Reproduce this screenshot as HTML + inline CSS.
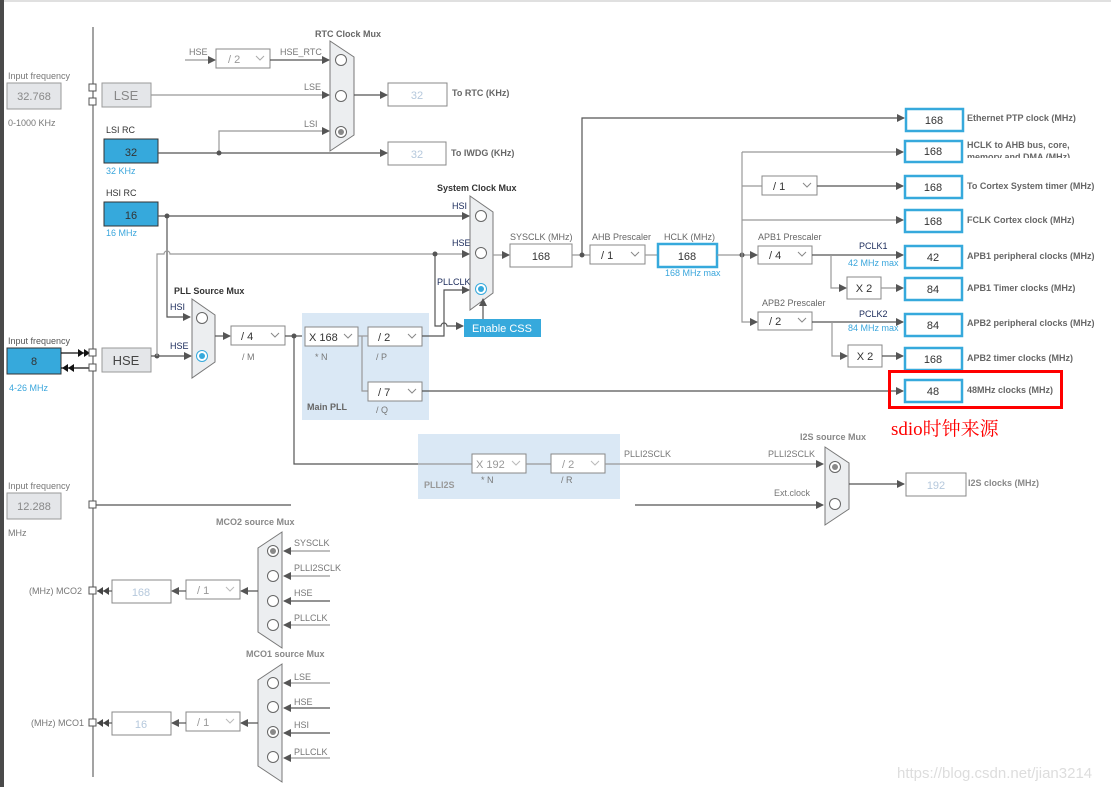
<!DOCTYPE html>
<html><head><meta charset="utf-8"><style>
html,body{margin:0;padding:0;background:#fff;}
svg{display:block;font-family:"Liberation Sans",Arial,sans-serif;}
.l{font-size:9px;fill:#777;}
.lb{font-size:9px;fill:#666;font-weight:bold;}
.dk{font-size:9px;fill:#1a2a5a;}
.bl{font-size:9px;fill:#3aa6dc;}
.v{font-size:11px;fill:#333;text-anchor:middle;}
.vg{font-size:11px;fill:#b5c8dc;text-anchor:middle;}
.w{stroke:#555;stroke-width:1.2;fill:none;}
.g{stroke:#999;stroke-width:1.2;fill:none;}
.bx{fill:#fff;stroke:#888;stroke-width:1;}
.bb{fill:#fff;stroke:#36a9dc;stroke-width:2.5;}
.gb{fill:#e4e6e9;stroke:#999;stroke-width:1;}
.blu{fill:#36a9dc;stroke:#333;stroke-width:1;}
.mx{fill:#eceef0;stroke:#777;stroke-width:1;}
.c{fill:#fff;stroke:#666;stroke-width:1;}
</style></head><body>
<svg width="1111" height="789" viewBox="0 0 1111 789" xmlns="http://www.w3.org/2000/svg">
<defs>
<marker id="a" markerWidth="8" markerHeight="8" refX="7" refY="4" orient="auto" markerUnits="userSpaceOnUse"><path d="M0,0 L8,4 L0,8 z" fill="#555"/></marker>
</defs>
<rect x="0" y="0" width="1111" height="789" fill="#fff"/>
<rect x="0" y="0" width="1111" height="2" fill="#e0e0e0"/>
<rect x="0" y="0" width="4" height="787" fill="#4a4a4a"/>
<line x1="93" y1="27" x2="93" y2="777" stroke="#666" stroke-width="1.2"/>

<!-- left inputs -->
<text x="8" y="79" class="l">Input frequency</text>
<rect x="7" y="83" width="54" height="26" class="gb"/><text x="34" y="100" class="v" fill="#888" style="fill:#888">32.768</text>
<text x="8" y="126" class="l">0-1000 KHz</text>
<rect x="102" y="83" width="49" height="24" class="gb"/><text x="126" y="100" style="font-size:13px;fill:#888;text-anchor:middle">LSE</text>
<rect x="89" y="84" width="7" height="7" fill="#fff" stroke="#555"/><rect x="89" y="98" width="7" height="7" fill="#fff" stroke="#555"/>

<text x="106" y="133" class="dk" style="fill:#333">LSI RC</text>
<rect x="104" y="139" width="54" height="24" class="blu"/><text x="131" y="156" class="v">32</text>
<text x="106" y="174" class="bl">32 KHz</text>
<text x="106" y="196" class="dk" style="fill:#333">HSI RC</text>
<rect x="104" y="202" width="54" height="24" class="blu"/><text x="131" y="219" class="v">16</text>
<text x="106" y="236" class="bl">16 MHz</text>

<text x="8" y="344" class="dk" style="fill:#555">Input frequency</text>
<rect x="7" y="348" width="54" height="26" class="blu"/><text x="34" y="365" class="v">8</text>
<text x="9" y="391" class="bl">4-26 MHz</text>
<line x1="61" y1="353" x2="90" y2="353" stroke="#111" stroke-width="1.2"/>
<path d="M78,349 L84,353 L78,357z M84,349 L90,353 L84,357z" fill="#111"/>
<line x1="61" y1="368" x2="90" y2="368" stroke="#111" stroke-width="1.2"/>
<path d="M62,368 L68,364 L68,372z M68,368 L74,364 L74,372z" fill="#111"/>
<rect x="89" y="349" width="7" height="7" fill="#fff" stroke="#555"/><rect x="89" y="364" width="7" height="7" fill="#fff" stroke="#555"/>
<rect x="102" y="348" width="49" height="24" class="gb"/><text x="126" y="365" style="font-size:13px;fill:#444;text-anchor:middle">HSE</text>

<!-- RTC mux -->
<text x="315" y="37" class="lb">RTC Clock Mux</text>
<line x1="185" y1="60" x2="215" y2="60" class="g" marker-end="url(#a)"/>
<text x="189" y="55" class="l">HSE</text>
<rect x="216" y="49" width="54" height="19" class="bx"/><text x="228" y="63" class="vg" style="fill:#999;text-anchor:start">/ 2</text>
<path d="M256,56 l4,4 l4,-4" stroke="#aaa" fill="none"/>
<line x1="270" y1="60" x2="329" y2="60" class="w" marker-end="url(#a)"/>
<text x="280" y="55" class="l">HSE_RTC</text>
<line x1="151" y1="95" x2="329" y2="95" class="g" marker-end="url(#a)"/>
<text x="304" y="90" class="l">LSE</text>
<path d="M219,153 V131 H329" class="g" marker-end="url(#a)"/>
<text x="304" y="127" class="l">LSI</text>
<path d="M330,41 L354,57 L354,135 L330,151 Z" class="mx"/>
<circle cx="341" cy="60" r="5.5" class="c"/><circle cx="341" cy="96" r="5.5" class="c"/>
<circle cx="341" cy="132" r="5.5" class="c"/><circle cx="341" cy="132" r="3" fill="#888"/>
<line x1="354" y1="95" x2="387" y2="95" class="w" marker-end="url(#a)"/>
<rect x="388" y="83" width="59" height="23" class="bx"/><text x="417" y="99" class="vg">32</text>
<text x="452" y="96" class="lb">To RTC (KHz)</text>
<line x1="158" y1="153" x2="387" y2="153" class="w" marker-end="url(#a)"/>
<circle cx="219" cy="153" r="2.5" fill="#555"/>
<rect x="388" y="142" width="58" height="23" class="bx"/><text x="417" y="158" class="vg">32</text>
<text x="451" y="156" class="lb">To IWDG (KHz)</text>

<!-- HSI / HSE lines -->
<line x1="158" y1="216" x2="469" y2="216" class="w" marker-end="url(#a)"/>
<circle cx="167" cy="216" r="2.5" fill="#555"/>
<path d="M167,216 V317 H190" class="w" marker-end="url(#a)"/>
<path d="M151,356 H191" class="w" marker-end="url(#a)"/>
<circle cx="157" cy="356" r="2.5" fill="#555"/>
<path d="M157,356 V254 H164 a3,3 0 0 1 6,0 H469" class="g" marker-end="url(#a)"/>
<circle cx="435" cy="254" r="2.5" fill="#555"/>
<path d="M435,254 V326 H441 a3,3 0 0 1 6,0 H463" class="w" marker-end="url(#a)"/>

<!-- PLL source mux -->
<text x="174" y="294" class="lb" style="fill:#333">PLL Source Mux</text>
<text x="170" y="310" class="dk">HSI</text><text x="170" y="349" class="dk">HSE</text>
<path d="M192,299 L215,315 L215,362 L192,378 Z" class="mx"/>
<circle cx="202" cy="318" r="5.5" class="c"/>
<circle cx="202" cy="356" r="5.5" fill="#fff" stroke="#36a9dc"/><circle cx="202" cy="356" r="3" fill="#36a9dc"/>
<line x1="215" y1="336" x2="230" y2="336" class="w" marker-end="url(#a)"/>
<rect x="231" y="326" width="54" height="19" class="bx"/><text x="241" y="340" style="font-size:11px;fill:#333">/ 4</text>
<path d="M271,333 l4,4 l4,-4" stroke="#888" fill="none"/>
<text x="242" y="360" class="l">/ M</text>
<line x1="285" y1="336" x2="305" y2="336" class="w"/>
<circle cx="294" cy="336" r="2.5" fill="#555"/>

<!-- Main PLL -->
<rect x="302" y="313" width="127" height="107" fill="#dae8f5"/>
<rect x="305" y="327" width="53" height="19" class="bx"/><text x="309" y="341" style="font-size:11px;fill:#333">X 168</text>
<path d="M344,334 l4,4 l4,-4" stroke="#888" fill="none"/>
<text x="315" y="360" class="l">* N</text>
<rect x="368" y="327" width="54" height="19" class="bx"/><text x="378" y="341" style="font-size:11px;fill:#333">/ 2</text>
<path d="M408,334 l4,4 l4,-4" stroke="#888" fill="none"/>
<text x="376" y="360" class="l">/ P</text>
<line x1="358" y1="336" x2="368" y2="336" class="g"/>
<path d="M362,336 V391 H368" class="g"/>
<rect x="368" y="382" width="54" height="19" class="bx"/><text x="378" y="396" style="font-size:11px;fill:#333">/ 7</text>
<path d="M408,389 l4,4 l4,-4" stroke="#888" fill="none"/>
<text x="376" y="413" class="l">/ Q</text>
<text x="307" y="410" class="lb">Main PLL</text>
<path d="M422,336 H444 V290 H469" class="w" marker-end="url(#a)"/>
<line x1="422" y1="391" x2="903" y2="391" class="w" marker-end="url(#a)"/>

<!-- System mux -->
<text x="437" y="191" class="lb" style="fill:#333">System Clock Mux</text>
<text x="452" y="209" class="dk">HSI</text><text x="452" y="246" class="dk">HSE</text><text x="437" y="285" class="dk">PLLCLK</text>
<path d="M470,196 L493,212 L493,293 L470,310 Z" class="mx"/>
<circle cx="481" cy="216" r="5.5" class="c"/><circle cx="481" cy="253" r="5.5" class="c"/>
<circle cx="481" cy="289" r="5.5" fill="#fff" stroke="#36a9dc"/><circle cx="481" cy="289" r="3" fill="#36a9dc"/>
<rect x="464" y="319" width="77" height="18" fill="#36a9dc"/><text x="502" y="332" style="font-size:11px;fill:#fff;text-anchor:middle">Enable CSS</text>
<line x1="483" y1="319" x2="483" y2="299" class="w" marker-end="url(#a)"/>
<line x1="493" y1="255" x2="509" y2="255" class="g" marker-end="url(#a)"/>
<text x="510" y="240" class="l" style="fill:#666">SYSCLK (MHz)</text>
<rect x="510" y="244" width="62" height="23" class="bx"/><text x="541" y="260" class="v">168</text>
<line x1="572" y1="255" x2="590" y2="255" class="g"/>
<circle cx="582" cy="255" r="2.5" fill="#555"/>
<path d="M582,255 V118 H904" class="w" marker-end="url(#a)"/>

<text x="592" y="240" class="l" style="fill:#666">AHB Prescaler</text>
<rect x="590" y="245" width="55" height="19" class="bx"/><text x="601" y="259" style="font-size:11px;fill:#333">/ 1</text>
<path d="M631,252 l4,4 l4,-4" stroke="#888" fill="none"/>
<line x1="645" y1="255" x2="658" y2="255" class="g"/>
<text x="664" y="240" class="l" style="fill:#666">HCLK (MHz)</text>
<rect x="658" y="244" width="59" height="23" class="bb"/><text x="687" y="260" class="v">168</text>
<text x="665" y="276" class="bl">168 MHz max</text>
<line x1="717" y1="255" x2="757" y2="255" class="g" marker-end="url(#a)"/>
<circle cx="742" cy="255" r="2.5" fill="#555"/>
<path d="M742,152 V322 H757" class="g" marker-end="url(#a)"/>
<line x1="742" y1="152" x2="903" y2="152" class="g" marker-end="url(#a)"/>
<line x1="742" y1="186" x2="762" y2="186" class="g"/>
<rect x="762" y="176" width="55" height="19" class="bx"/><text x="773" y="190" style="font-size:11px;fill:#333">/ 1</text>
<path d="M803,183 l4,4 l4,-4" stroke="#888" fill="none"/>
<line x1="817" y1="186" x2="903" y2="186" class="w" marker-end="url(#a)"/>
<line x1="742" y1="220" x2="903" y2="220" class="g" marker-end="url(#a)"/>

<text x="758" y="240" class="l" style="fill:#666">APB1 Prescaler</text>
<rect x="758" y="246" width="54" height="18" class="bx"/><text x="769" y="259" style="font-size:11px;fill:#333">/ 4</text>
<path d="M798,252 l4,4 l4,-4" stroke="#888" fill="none"/>
<line x1="812" y1="255" x2="903" y2="255" class="w" marker-end="url(#a)"/>
<text x="859" y="249" class="dk">PCLK1</text><text x="848" y="266" class="bl">42 MHz max</text>
<path d="M831,255 V288 H846" class="g" marker-end="url(#a)"/>
<rect x="847" y="277" width="34" height="22" class="bx"/><text x="864" y="292" class="v">X 2</text>
<line x1="881" y1="288" x2="903" y2="288" class="g" marker-end="url(#a)"/>

<text x="762" y="306" class="l" style="fill:#666">APB2 Prescaler</text>
<rect x="758" y="312" width="54" height="18" class="bx"/><text x="769" y="325" style="font-size:11px;fill:#333">/ 2</text>
<path d="M798,318 l4,4 l4,-4" stroke="#888" fill="none"/>
<line x1="812" y1="322" x2="903" y2="322" class="w" marker-end="url(#a)"/>
<text x="859" y="317" class="dk">PCLK2</text><text x="848" y="331" class="bl">84 MHz max</text>
<path d="M832,322 V356 H847" class="g" marker-end="url(#a)"/>
<rect x="848" y="345" width="34" height="22" class="bx"/><text x="865" y="360" class="v">X 2</text>
<line x1="882" y1="356" x2="903" y2="356" class="w" marker-end="url(#a)"/>

<!-- right outputs -->
<g>
<rect x="906" y="109" width="57" height="22" class="bb"/><text x="934" y="124" class="v">168</text>
<text x="967" y="121" class="lb">Ethernet PTP clock (MHz)</text>
<rect x="905" y="141" width="57" height="21" class="bb"/><text x="933" y="155" class="v">168</text>
<text x="967" y="148" class="lb">HCLK to AHB bus, core,</text>
<svg x="967" y="150" width="120" height="8" overflow="hidden"><text x="0" y="10" class="lb">memory and DMA (MHz)</text></svg>
<rect x="905" y="176" width="57" height="22" class="bb"/><text x="933" y="191" class="v">168</text>
<text x="967" y="189" class="lb">To Cortex System timer (MHz)</text>
<rect x="905" y="210" width="57" height="22" class="bb"/><text x="933" y="225" class="v">168</text>
<text x="967" y="223" class="lb">FCLK Cortex clock (MHz)</text>
<rect x="905" y="246" width="57" height="22" class="bb"/><text x="933" y="261" class="v">42</text>
<text x="967" y="259" class="lb">APB1 peripheral clocks (MHz)</text>
<rect x="905" y="278" width="57" height="22" class="bb"/><text x="933" y="293" class="v">84</text>
<text x="967" y="291" class="lb">APB1 Timer clocks (MHz)</text>
<rect x="905" y="314" width="57" height="22" class="bb"/><text x="933" y="329" class="v">84</text>
<text x="967" y="326" class="lb">APB2 peripheral clocks (MHz)</text>
<rect x="905" y="348" width="57" height="22" class="bb"/><text x="933" y="363" class="v">168</text>
<text x="967" y="361" class="lb">APB2 timer clocks (MHz)</text>
<rect x="905" y="380" width="57" height="22" class="bb"/><text x="933" y="395" class="v">48</text>
<text x="967" y="393" class="lb">48MHz clocks (MHz)</text>
<rect x="889.5" y="371.5" width="172" height="36" fill="none" stroke="#f00" stroke-width="3"/>
<text x="891" y="435" style="font-family:'Liberation Serif','Noto Serif CJK SC',serif;font-size:19px;fill:#f00">sdio时钟来源</text>
</g>

<!-- PLLI2S -->
<path d="M294,336 V464 H471" class="w"/>
<rect x="418" y="434" width="202" height="65" fill="#dae8f5"/>
<line x1="418" y1="464" x2="472" y2="464" class="g"/>
<rect x="472" y="454" width="54" height="19" class="bx"/><text x="476" y="468" style="font-size:11px;fill:#999">X 192</text>
<path d="M512,461 l4,4 l4,-4" stroke="#bbb" fill="none"/>
<text x="481" y="483" class="l">* N</text>
<line x1="526" y1="464" x2="551" y2="464" class="g"/>
<rect x="551" y="454" width="54" height="19" class="bx"/><text x="562" y="468" style="font-size:11px;fill:#999">/ 2</text>
<path d="M591,461 l4,4 l4,-4" stroke="#bbb" fill="none"/>
<text x="561" y="483" class="l">/ R</text>
<text x="424" y="488" class="lb" style="fill:#999">PLLI2S</text>
<line x1="605" y1="464" x2="823" y2="464" class="g" marker-end="url(#a)"/>
<text x="624" y="457" class="l">PLLI2SCLK</text><text x="768" y="457" class="l">PLLI2SCLK</text>
<text x="774" y="496" class="l">Ext.clock</text>
<line x1="635" y1="505" x2="823" y2="505" class="w" marker-end="url(#a)"/>
<text x="800" y="440" class="lb" style="fill:#888">I2S source Mux</text>
<path d="M825,447 L849,463 L849,509 L825,525 Z" class="mx"/>
<circle cx="835" cy="467" r="5.5" class="c"/><circle cx="835" cy="467" r="3" fill="#888"/>
<circle cx="835" cy="504" r="5.5" class="c"/>
<line x1="849" y1="484" x2="904" y2="484" class="w" marker-end="url(#a)"/>
<rect x="906" y="473" width="60" height="23" class="bx"/><text x="936" y="489" class="vg">192</text>
<text x="968" y="486" class="lb" style="fill:#888">I2S clocks (MHz)</text>

<!-- 12.288 -->
<text x="8" y="489" class="l">Input frequency</text>
<rect x="7" y="493" width="54" height="26" class="gb"/><text x="34" y="510" style="font-size:11px;fill:#888;text-anchor:middle">12.288</text>
<text x="8" y="536" class="l">MHz</text>
<line x1="93" y1="505" x2="291" y2="505" class="w"/>
<rect x="89" y="501" width="7" height="7" fill="#fff" stroke="#555"/>

<!-- MCO2 -->
<text x="216" y="525" class="lb" style="fill:#888">MCO2 source Mux</text>
<path d="M282,532 L282,648 L258,632 L258,548 Z" class="mx"/>
<circle cx="273" cy="551" r="5.5" class="c"/><circle cx="273" cy="551" r="3" fill="#888"/>
<circle cx="273" cy="576" r="5.5" class="c"/><circle cx="273" cy="601" r="5.5" class="c"/><circle cx="273" cy="625" r="5.5" class="c"/>
<line x1="330" y1="551" x2="284" y2="551" class="g" marker-end="url(#a)"/>
<line x1="330" y1="576" x2="284" y2="576" class="g" marker-end="url(#a)"/>
<line x1="330" y1="601" x2="284" y2="601" class="w" marker-end="url(#a)"/>
<line x1="330" y1="625" x2="284" y2="625" class="g" marker-end="url(#a)"/>
<text x="294" y="546" class="l">SYSCLK</text><text x="294" y="571" class="l">PLLI2SCLK</text>
<text x="294" y="596" class="l">HSE</text><text x="294" y="621" class="l">PLLCLK</text>
<line x1="258" y1="591" x2="241" y2="591" class="w" marker-end="url(#a)"/>
<rect x="186" y="580" width="54" height="19" class="bx"/><text x="197" y="594" style="font-size:11px;fill:#999">/ 1</text>
<path d="M226,587 l4,4 l4,-4" stroke="#bbb" fill="none"/>
<line x1="186" y1="591" x2="172" y2="591" class="w" marker-end="url(#a)"/>
<rect x="112" y="580" width="59" height="23" class="bx"/><text x="141" y="596" class="vg">168</text>
<line x1="112" y1="591" x2="97" y2="591" class="w"/>
<path d="M97,591 l6,-4 v8z M103,591 l6,-4 v8z" fill="#444"/>
<rect x="89" y="587" width="7" height="7" fill="#fff" stroke="#555"/>
<text x="29" y="594" class="l">(MHz) MCO2</text>

<!-- MCO1 -->
<text x="246" y="657" class="lb" style="fill:#888">MCO1 source Mux</text>
<path d="M282,664 L282,782 L258,766 L258,680 Z" class="mx"/>
<circle cx="273" cy="683" r="5.5" class="c"/><circle cx="273" cy="707" r="5.5" class="c"/>
<circle cx="273" cy="732" r="5.5" class="c"/><circle cx="273" cy="732" r="3" fill="#888"/>
<circle cx="273" cy="757" r="5.5" class="c"/>
<line x1="330" y1="683" x2="284" y2="683" class="g" marker-end="url(#a)"/>
<line x1="330" y1="708" x2="284" y2="708" class="w" marker-end="url(#a)"/>
<line x1="330" y1="733" x2="284" y2="733" class="w" marker-end="url(#a)"/>
<line x1="330" y1="758" x2="284" y2="758" class="g" marker-end="url(#a)"/>
<text x="294" y="680" class="l">LSE</text><text x="294" y="705" class="l">HSE</text>
<text x="294" y="728" class="l">HSI</text><text x="294" y="755" class="l">PLLCLK</text>
<line x1="258" y1="723" x2="241" y2="723" class="w" marker-end="url(#a)"/>
<rect x="186" y="712" width="54" height="19" class="bx"/><text x="197" y="726" style="font-size:11px;fill:#999">/ 1</text>
<path d="M226,719 l4,4 l4,-4" stroke="#bbb" fill="none"/>
<line x1="186" y1="723" x2="172" y2="723" class="w" marker-end="url(#a)"/>
<rect x="112" y="712" width="59" height="23" class="bx"/><text x="141" y="728" class="vg">16</text>
<line x1="112" y1="723" x2="97" y2="723" class="w"/>
<path d="M97,723 l6,-4 v8z M103,723 l6,-4 v8z" fill="#444"/>
<rect x="89" y="719" width="7" height="7" fill="#fff" stroke="#555"/>
<text x="31" y="726" class="l">(MHz) MCO1</text>

<text x="897" y="778" style="font-size:15px;fill:#ddd">https://blog.csdn.net/jian3214</text>
</svg>
</body></html>
